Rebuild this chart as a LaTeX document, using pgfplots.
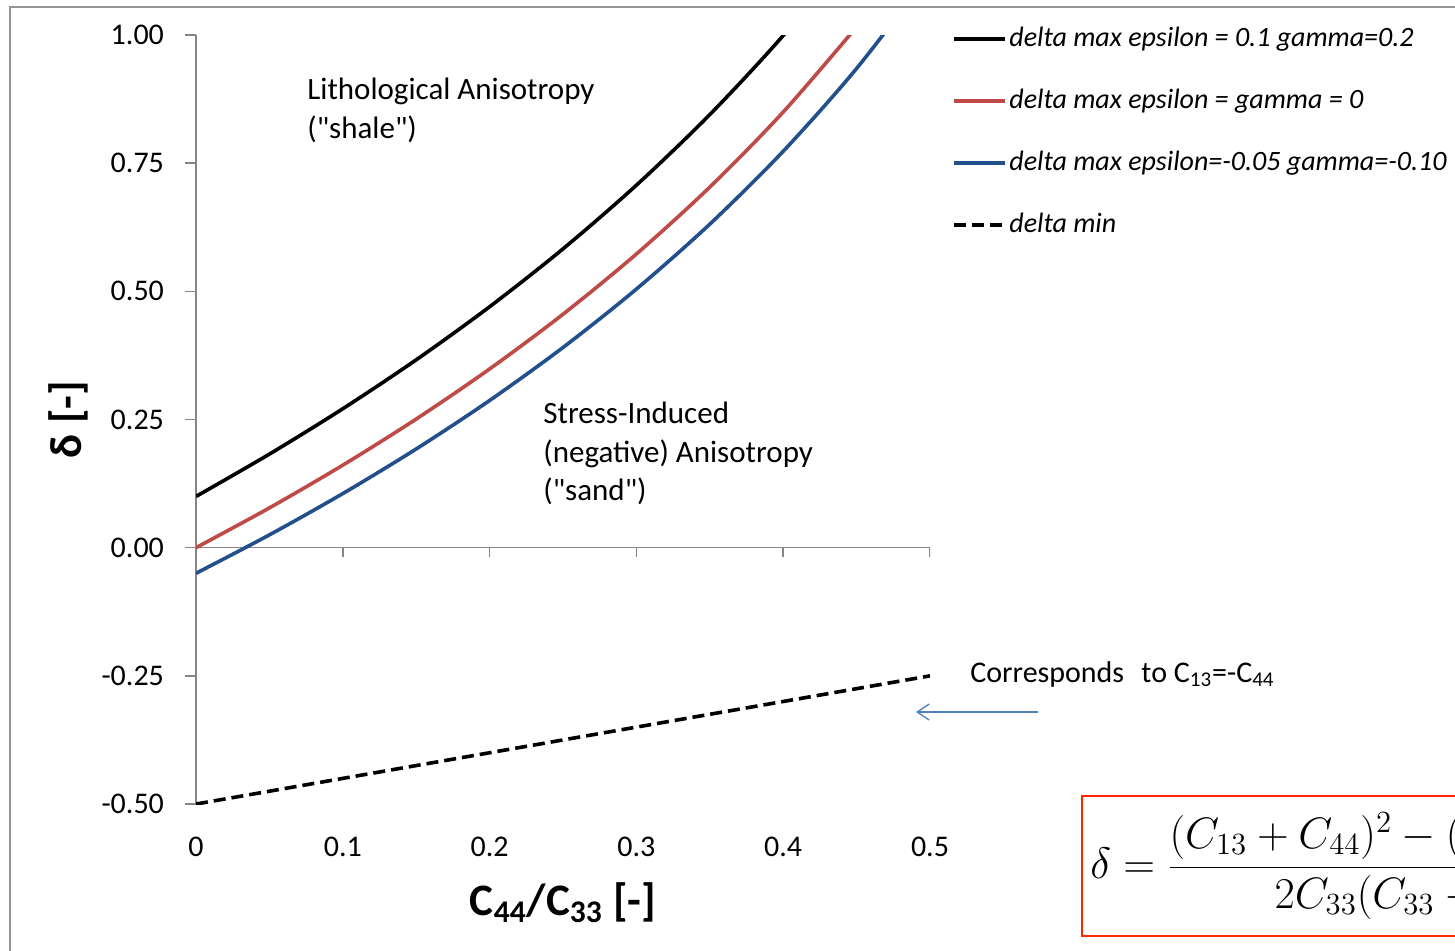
\RequirePackage{fix-cm}
\documentclass[border=0pt]{standalone}
\usepackage{pgfplots}
\pgfplotsset{compat=1.18}
\usepackage{fontspec}
\setmainfont{Carlito}
\usetikzlibrary{arrows.meta}
\definecolor{cred}{RGB}{190,75,72}
\definecolor{cblue}{RGB}{35,80,140}
\definecolor{axgray}{RGB}{134,134,134}
\definecolor{framegray}{RGB}{150,150,150}
\definecolor{arrowblue}{RGB}{79,129,189}
\definecolor{boxred}{RGB}{255,40,0}
\begin{document}
\begin{tikzpicture}
\useasboundingbox (0,0) rectangle (727.5pt,-475pt);
\clip (0,0) rectangle (727.5pt,-475pt);
\draw[framegray, line width=0.8pt] (5pt,-3.5pt) rectangle (760pt,-500pt);
\begin{axis}[
  scale only axis, width=367pt, height=384.5pt,
  at={(98pt,-402pt)}, anchor=south west,
  xmin=0, xmax=0.5, ymin=-0.5, ymax=1,
  axis x line*=bottom, axis y line*=left,
  x axis line style={draw=none},
  y axis line style={axgray, line width=0.8pt, -},
  xtick={0,0.1,0.2,0.3,0.4,0.5},
  xticklabels={0,0.1,0.2,0.3,0.4,0.5},
  ytick={-0.5,-0.25,0,0.25,0.5,0.75,1},
  yticklabels={-0.50,-0.25,0.00,0.25,0.50,0.75,1.00},
  xtick style={draw=none},
  ytick style={axgray, line width=0.8pt},
  tick align=outside, major tick length=5.5pt,
  ticklabel style={font=\fontsize{15}{18}\selectfont},
  xticklabel style={yshift=-7.5pt},
  yticklabel style={xshift=-7pt},
  xlabel={\textbf{C\textsubscript{44}/C\textsubscript{33} [-]}},
  ylabel={\textbf{δ [-]}},
  label style={font=\fontsize{22.5}{26}\selectfont},
  xlabel style={at={(axis description cs:0.5,-0.1287)}, anchor=center},
  ylabel style={at={(axis description cs:-0.1744,0.5)}, anchor=center},
  legend style={draw=none, fill=none, at={(axis description cs:1.02997,1.013)}, anchor=north west,
    font=\fontsize{14}{17}\selectfont\itshape, row sep=17.8pt, inner sep=0pt,
    nodes={inner sep=1pt}},
  legend cell align=left,
  legend image code/.code={\draw[#1, line width=2pt] (0pt,0pt) -- (25.5pt,0pt);},
]
\draw[axgray, line width=0.8pt] (axis cs:0,0) -- (axis cs:0.5,0);
\draw[axgray, line width=0.8pt] (axis cs:0.1,0) -- ++(0pt,-4.5pt);
\draw[axgray, line width=0.8pt] (axis cs:0.2,0) -- ++(0pt,-4.5pt);
\draw[axgray, line width=0.8pt] (axis cs:0.3,0) -- ++(0pt,-4.5pt);
\draw[axgray, line width=0.8pt] (axis cs:0.4,0) -- ++(0pt,-4.5pt);
\draw[axgray, line width=0.8pt] (axis cs:0.5,0) -- ++(0pt,-4.5pt);
\addplot[black, line width=1.8pt, smooth] coordinates {
(0,0.1) (0.05,0.18252) (0.1,0.27103) (0.15,0.36647) (0.2,0.46995) (0.25,0.58290) (0.3,0.70708) (0.35,0.84479) (0.4,0.99902) (0.45,1.17379)};
\addlegendentry{delta max epsilon = 0.1 gamma=0.2}
\addplot[cred, line width=1.8pt, smooth] coordinates {
(0,0) (0.05,0.07762) (0.1,0.16097) (0.15,0.25094) (0.2,0.34861) (0.25,0.45535) (0.3,0.57286) (0.35,0.70335) (0.4,0.84973) (0.45,1.01587)};
\addlegendentry{delta max epsilon = gamma = 0}
\addplot[cblue, line width=1.8pt, smooth] coordinates {
(0,-0.05) (0.05,0.02499) (0.1,0.10556) (0.15,0.19259) (0.2,0.28713) (0.25,0.39053) (0.3,0.50446) (0.35,0.63108) (0.4,0.77323) (0.45,0.93473) (0.5,1.12082)};
\addlegendentry{delta max epsilon=-0.05 gamma=-0.10}
\addplot[black, line width=1.8pt, dash pattern=on 6pt off 3pt] coordinates {(0,-0.5) (0.5,-0.25)};
\addlegendentry{delta min}
\end{axis}
\begin{scope}[font=\fontsize{15.5}{18}\selectfont]
\node[anchor=base west, inner sep=0pt] at (153.5pt,-49.5pt) {Lithological Anisotropy};
\node[anchor=base west, inner sep=0pt] at (153.5pt,-69pt) {(\textquotedbl shale\textquotedbl)};
\node[anchor=base west, inner sep=0pt] at (271.5pt,-211.5pt) {Stress-Induced};
\node[anchor=base west, inner sep=0pt] at (271.5pt,-231pt) {(negative) Anisotropy};
\node[anchor=base west, inner sep=0pt] at (271.5pt,-250pt) {(\textquotedbl sand\textquotedbl)};
\end{scope}
\node[anchor=base west, inner sep=0pt, font=\fontsize{15}{18}\selectfont] at (485pt,-341pt) {Corresponds\hspace{0.35em} to C\textsubscript{13}=-C\textsubscript{44}};
\draw[arrowblue, line width=0.65pt, -{Straight Barb[length=6pt, width=8pt]}] (519pt,-356pt) -- (458pt,-356pt);
\draw[boxred, line width=1pt] (541pt,-398pt) rectangle (760pt,-468pt);
\node[anchor=base west, inner sep=0pt, font=\fontsize{22}{26}\selectfont] at (545pt,-439pt)
  {$\displaystyle \delta = \frac{(C_{13}+C_{44})^2-(C_{33}-C_{44})^2}{2C_{33}(C_{33}-C_{44})}$};
\end{tikzpicture}
\end{document}
